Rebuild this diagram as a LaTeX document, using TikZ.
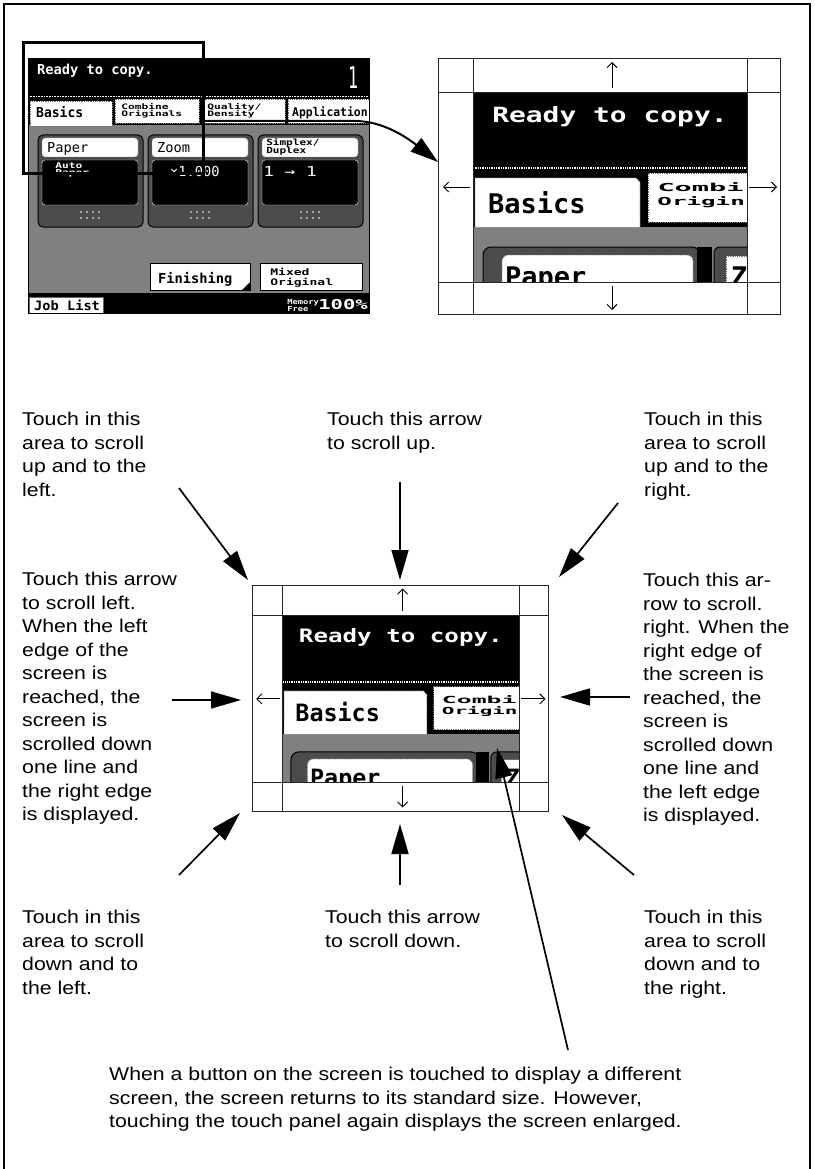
\documentclass[tikz,border=0pt]{standalone}
\usepackage{fontspec}
\setmainfont{Liberation Sans}
\newfontfamily\lcd{DejaVu Sans Mono}
\usepackage{tikz}
\usetikzlibrary{arrows.meta,positioning}
\newcommand\notefont{\fontsize{18.5}{23.5}\selectfont}
\newcommand\lcdsize[1]{\lcd\fontsize{#1}{#1}\selectfont}
\tikzset{
  outer/.style={line width=2.4pt},
  callout/.style={line width=1.7pt,-{Triangle[length=30pt,width=17pt]}},
  zoomlink/.style={line width=2pt,-{Triangle[length=28pt,width=17pt]}},
  scrollarr/.style={line width=0.9pt,-{Straight Barb[length=5pt,width=10pt]}},
  gridln/.style={line width=0.8pt,draw=black!85},
  note/.style={font=\notefont,align=left,anchor=north west,inner sep=0pt,xscale=1.15},
  lcdw/.style={inner sep=0pt,anchor=base west,text=white},
  lcdk/.style={inner sep=0pt,anchor=base west,text=black},
  dither/.style={fill=black!50},
  tabbox/.style={fill=white,draw=black!55,densely dotted,line width=0.8pt},
  btnring/.style={fill=black!70,draw=black,line width=1pt},
  bigscreen/.pic={
    \begin{scope}
      \clip (35,34) rectangle (309,224);
      \fill[black] (35,34) rectangle (309,169);
      \draw[white,densely dotted,line width=1.3pt] (35,110) -- (309,110);
      \fill[dither] (35,169) rectangle (309,224);
      % tabs
      \filldraw[tabbox] (37,169) -- (37,120) -- (198,120) -- (202,124) -- (202,169);
      \filldraw[tabbox] (210,164) rectangle (315,115);
      \node[lcdw,font=\lcdsize{21}\bfseries,xscale=1.33] at (54,65) {Ready to copy.};
      \node[lcdk,font=\lcdsize{27}\bfseries] at (50,155) {Basics};
      \node[lcdk,font=\lcdsize{11}\bfseries,xscale=2.6] at (219,134) {Combi};
      \node[lcdk,font=\lcdsize{11}\bfseries,xscale=2.2] at (219,147) {Origin};
      % buttons
      \filldraw[btnring,rounded corners=8pt] (45,250) -- (45,189) -- (262,189) -- (262,250);
      \filldraw[tabbox,rounded corners=6pt] (64,250) -- (64,197) -- (255,197) -- (255,250);
      \node[lcdk,font=\lcdsize{27}\bfseries] at (67,228) {Paper};
      \fill[black] (259,189) rectangle (274,250);
      \filldraw[btnring,rounded corners=6pt] (276,250) -- (276,189) -- (330,189);
      \filldraw[tabbox] (288,250) -- (288,198) -- (330,198);
      \node[lcdk,font=\lcdsize{27}\bfseries] at (293,228) {Z};
    \end{scope}
    % grid of scroll areas
    \draw[gridln] (0,0) rectangle (342,256);
    \draw[gridln] (35,0) -- (35,256) (309,0) -- (309,256)
                  (0,34) -- (342,34) (0,224) -- (342,224);
    \draw[scrollarr] (174,30) -- (174,4);
    \draw[scrollarr] (174,228) -- (174,252);
    \draw[scrollarr] (32,129) -- (5,129);
    \draw[scrollarr] (311,129) -- (339,129);
    \coordinate (-in) at (0,104);
  }
}

\begin{document}
\begin{tikzpicture}[x=1pt,y=-1pt]
\useasboundingbox (0,0) rectangle (814,1169);
\draw[outer] (4,1180) -- (4,4) -- (810,4) -- (810,1180);

% small copy screen
\fill[black] (28,58) rectangle (369,125);
\draw[white,densely dotted,line width=0.6pt] (28,96) -- (369,96);
\fill[dither] (28,125) rectangle (369,293);
\fill[black] (28,293) rectangle (369,313);
\node[lcdw,font=\lcdsize{13.7}\bfseries] (ready) at (37,75) {Ready to copy.};
\node[lcdw,font=\lcdsize{30},xscale=0.55] (count) at (348,89) {1};
\filldraw[tabbox] (30,126) -- (30,101) -- (112,101) -- (112,126);
\filldraw[tabbox] (115,99) rectangle (199,123);
\filldraw[tabbox] (202,99) rectangle (285,123);
\filldraw[tabbox] (288,99) rectangle (369,123);
\node[lcdk,font=\lcdsize{13.7}\bfseries,xscale=0.95] (basics) at (36,118) {Basics};
\node[lcdk,font=\lcdsize{7.5}\bfseries,xscale=1.5] at (121,110) {Combine};
\node[lcdk,font=\lcdsize{7.5}\bfseries,xscale=1.5] at (121,117) {Originals};
\node[lcdk,font=\lcdsize{7.5}\bfseries,xscale=1.5] at (207,110) {Quality/};
\node[lcdk,font=\lcdsize{7.5}\bfseries,xscale=1.5] at (207,117) {Density};
\node[lcdk,font=\lcdsize{12}\bfseries,xscale=0.95] at (292,117) {Application};
\foreach \bx in {38,148,258}{
  \filldraw[btnring,rounded corners=5pt] (\bx,135) rectangle (\bx+105,227);
  \filldraw[fill=white,draw=black!50,rounded corners=3pt] (\bx+4,138) rectangle (\bx+100,157);
  \filldraw[fill=black,draw=white,rounded corners=3pt] (\bx+4,160) rectangle (\bx+100,205);
  \foreach \dx in {-9,-3,3,9}{
    \fill[white] (\bx+52+\dx,212) circle (0.9) (\bx+52+\dx,218) circle (0.9);}
}
\node[lcdk,font=\lcdsize{13.7}] at (47,153) {Paper};
\node[lcdk,font=\lcdsize{13.7}] at (157,153) {Zoom};
\node[lcdk,font=\lcdsize{8.5}\bfseries,xscale=1.3] at (266,146) {Simplex/};
\node[lcdk,font=\lcdsize{8.5}\bfseries,xscale=1.3] at (266,154) {Duplex};
\node[lcdw,font=\lcdsize{8}\bfseries,xscale=1.4] at (55,169) {Auto};
\node[lcdw,font=\lcdsize{8}\bfseries,xscale=1.4] at (55,176) {Paper};
\node[lcdw,font=\lcdsize{13.7}] at (170,177) {×1.000};
\node[lcdw,font=\lcdsize{13.7},xscale=1.3] at (263,177) {1 → 1};
\filldraw[fill=white,draw=black,line width=0.8pt] (150,263) rectangle (250,290);
\fill (250,282) -- (250,290) -- (242,290) -- cycle;
\node[lcdk,font=\lcdsize{13.7}\bfseries] at (158,283) {Finishing};
\filldraw[fill=white,draw=black,line width=0.8pt] (260,263) rectangle (362,290);
\node[lcdk,font=\lcdsize{9}\bfseries,xscale=1.45] at (270,275) {Mixed};
\node[lcdk,font=\lcdsize{9}\bfseries,xscale=1.45] at (270,285) {Original};
\filldraw[fill=white,draw=black!60,line width=0.8pt] (29,297) rectangle (103,313);
\node[lcdk,font=\lcdsize{13}\bfseries,xscale=1.05] at (34,310) {Job List};
\node[lcdw,font=\lcdsize{7}\bfseries,xscale=1.25] at (287,304) {Memory};
\node[lcdw,font=\lcdsize{7}\bfseries,xscale=1.25] at (287,311) {Free};
\node[lcdw,font=\lcdsize{13.7}\bfseries,xscale=1.5] at (318,309) {100\%};
\draw[black,line width=0.8pt] (28,58) rectangle (369,313);

% selection and enlarged views
\node[draw,line width=2.6pt,minimum width=180pt,minimum height=131pt,inner sep=0pt,anchor=north west] (zoomsel) at (22,41) {};
\pic (bigA) at (438,58) {bigscreen};
\pic[xscale=0.8655,yscale=0.8828,transform shape] (bigB) at (252,585) {bigscreen};
\coordinate (selout) at (202,121);
\draw[zoomlink] (selout) -- (355,121) .. controls (385,121) and (410,140) .. (bigA-in);

% callouts
\node[note] (ulNote) at (22,412) {Touch in this\\area to scroll\\up and to the\\left.};
\node[note] (upNote) at (327,412) {Touch this arrow\\to scroll up.};
\node[note] (urNote) at (644,412) {Touch in this\\area to scroll\\up and to the\\right.};
\node[note] (lfNote) at (22,572) {Touch this arrow\\to scroll left.\\When the left\\edge of the\\screen is\\reached, the\\screen is\\scrolled down\\one line and\\the right edge\\is displayed.};
\node[note] (rtNote) at (643,573) {Touch this ar-\\row to scroll.\\right. When the\\right edge of\\the screen is\\reached, the\\screen is\\scrolled down\\one line and\\the left edge\\is displayed.};
\node[note] (dlNote) at (22,910) {Touch in this\\area to scroll\\down and to\\the left.};
\node[note] (dnNote) at (325,910) {Touch this arrow\\to scroll down.};
\node[note] (drNote) at (644,910) {Touch in this\\area to scroll\\down and to\\the right.};
\node[note] (btNote) at (109,1067) {When a button on the screen is touched to display a different\\screen, the screen returns to its standard size. However,\\touching the touch panel again displays the screen enlarged.};

\coordinate (ulTail) at (179,488); \coordinate (ulTip) at (248,580);
\coordinate (upTail) at (400,482); \coordinate (upTip) at (400,580);
\coordinate (urTail) at (618,503); \coordinate (urTip) at (559,577);
\coordinate (lfTail) at (172,700); \coordinate (lfTip) at (241,700);
\coordinate (rtTail) at (630,697); \coordinate (rtTip) at (560,697);
\coordinate (dlTail) at (179,875); \coordinate (dlTip) at (240,813);
\coordinate (dnTail) at (400,885); \coordinate (dnTip) at (400,824);
\coordinate (drTail) at (634,875); \coordinate (drTip) at (562,815);
\coordinate (stTail) at (568,1050); \coordinate (stTip) at (497,748);
\foreach \c in {ul,up,ur,lf,rt,dl,dn,dr,st}
  \draw[callout] (\c Tail) -- (\c Tip);
\end{tikzpicture}
\end{document}
